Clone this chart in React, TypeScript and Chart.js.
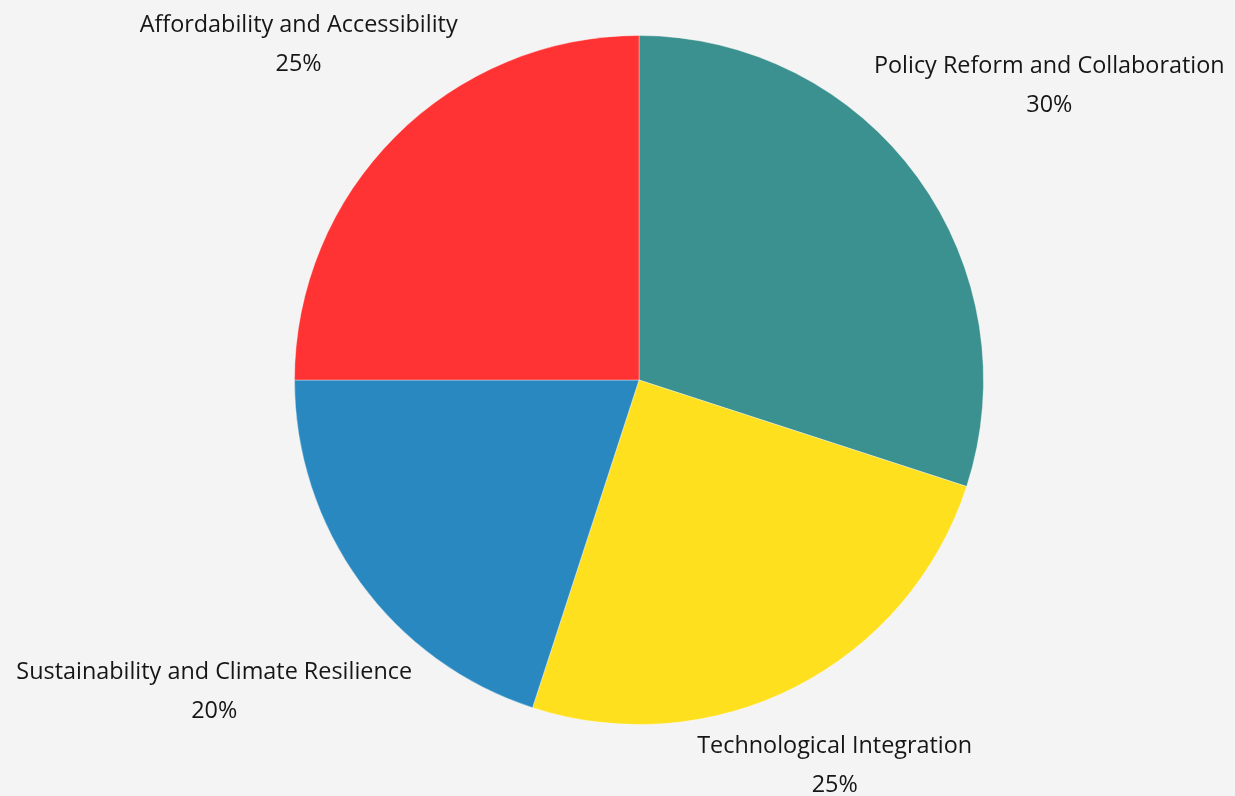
import React, { useEffect, useRef } from "react";
import { Chart, registerables } from "chart.js";

Chart.register(...registerables);

const categories = [
  "Policy Reform and Collaboration",
  "Technological Integration",
  "Sustainability and Climate Resilience",
  "Affordability and Accessibility",
];
const shares = [30, 25, 20, 25];
const colors = ["#3A918F", "#FFE01E", "#2A88C0", "#FF3333"];

// label centre offsets, in units of the pie radius (layout only)
const labelOffsets: [number, number][] = [
  [1.191, -0.855],
  [0.568, 1.119],
  [-1.233, 0.906],
  [-0.988, -0.974],
];

const FONT = "23.4px 'Open Sans'";
const LINE_GAP = 39;

const labelPlugin = {
  id: "outsideLabels",
  afterDraw(chart: any) {
    const ctx = chart.ctx;
    const meta = chart.getDatasetMeta(0);
    ctx.save();
    ctx.font = FONT;
    ctx.fillStyle = "#161616";
    ctx.textAlign = "center";
    ctx.textBaseline = "middle";
    meta.data.forEach((arc: any, i: number) => {
      const { x, y, outerRadius } = arc.getProps(["x", "y", "outerRadius"], true);
      const [ox, oy] = labelOffsets[i];
      const cx = x + ox * outerRadius;
      const cy = y + oy * outerRadius;
      ctx.fillText(categories[i], cx, cy - LINE_GAP / 2);
      ctx.fillText(shares[i] + "%", cx, cy + LINE_GAP / 2);
    });
    ctx.restore();
  },
};

export default function App() {
  const ref = useRef<HTMLCanvasElement>(null);
  useEffect(() => {
    document.body.style.margin = "0";
    document.body.style.background = "#F4F4F4";
    const chart = new Chart(ref.current!, {
      type: "pie",
      data: {
        labels: categories,
        datasets: [
          {
            data: shares,
            backgroundColor: colors,
            borderColor: "rgba(255,255,255,0.35)",
            borderWidth: 1,
          },
        ],
      },
      options: {
        animation: false,
        responsive: false,
        layout: { padding: { top: 35, bottom: 71, left: 294, right: 251 } },
        plugins: { legend: { display: false }, tooltip: { enabled: false } },
      },
      plugins: [labelPlugin],
    });
    return () => chart.destroy();
  }, []);
  return (
    <div style={{ width: 1235, height: 796, background: "#F4F4F4" }}>
      <canvas ref={ref} width={1235} height={796} />
    </div>
  );
}
